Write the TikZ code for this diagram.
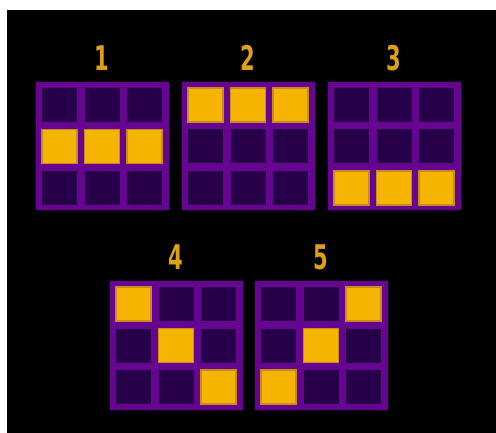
\documentclass[tikz,border=0pt]{standalone}
\usepackage{fontspec}
\setmainfont{DejaVu Sans}
\definecolor{gridpurple}{HTML}{66058F}
\definecolor{celldark}{HTML}{27004A}
\definecolor{cellgold}{HTML}{F5B400}
\definecolor{goldrim}{HTML}{C98A20}
\definecolor{lblgold}{HTML}{DCA214}
\tikzset{
  gridbox/.style={fill=gridpurple, draw=black!85!gridpurple, line width=1pt},
  darkcell/.style={fill=celldark},
  goldcell/.style={fill=cellgold, draw=goldrim, line width=1.2pt},
  lbl/.style={text=lblgold, font=\bfseries\fontsize{34}{34}\selectfont, xscale=0.62, inner sep=0pt}
}
\newcommand\mygrid[4]{%
  \fill[gridbox] (#1,#2) rectangle ++(134,129);
  \foreach \c in {0,1,2}{\foreach \r in {0,1,2}{%
    \fill[darkcell] (#1+7+\c*42.5, #2+6+\r*41.5) rectangle ++(35,34);}}
  \foreach \c/\r in {#4}{%
    \filldraw[goldcell] (#1+7+\c*42.5, #2+6+\r*41.5) rectangle ++(35,34);}
  \node[lbl] (label#3) at (#1+67,#2-24) {#3};
}
\begin{document}
\begin{tikzpicture}[x=1pt,y=-1pt]
\useasboundingbox (0,0) rectangle (496,433);
\fill[white] (0,0) rectangle (496,433);
\fill[black] (7,10) rectangle (496,433);
\mygrid{35}{82}{1}{0/1,1/1,2/1}
\mygrid{181}{82}{2}{0/0,1/0,2/0}
\mygrid{327}{82}{3}{0/2,1/2,2/2}
\mygrid{109}{281}{4}{0/0,1/1,2/2}
\mygrid{254}{281}{5}{2/0,1/1,0/2}
\end{tikzpicture}
\end{document}
